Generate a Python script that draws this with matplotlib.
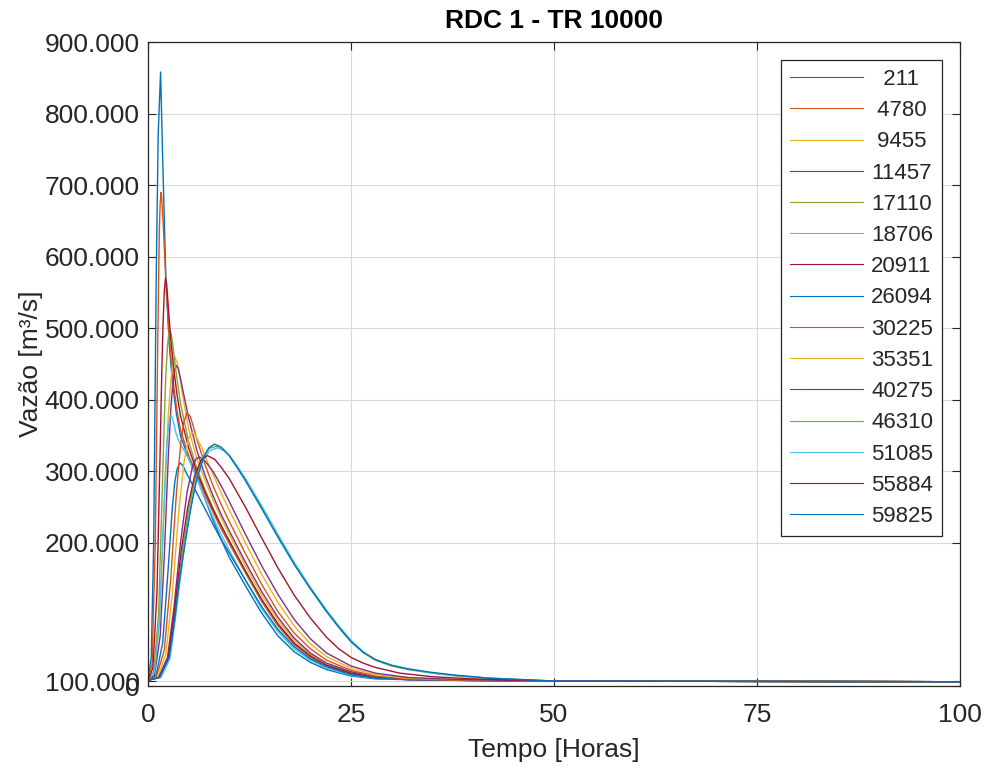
# Hidrogramas de rompimento - RDC 1 - TR 10000
# vazao x tempo em cada secao do rio

import matplotlib
matplotlib.use('Agg')
import matplotlib.pyplot as plt

# secoes (legenda)
secoes = ['211', '4780', '9455', '11457', '17110', '18706', '20911', '26094',
          '30225', '35351', '40275', '46310', '51085', '55884', '59825']

# cores padrao do matlab
cores = ['#0072BD', '#D95319', '#EDB120', '#7E2F8E', '#77AC30', '#4DBEEE', '#A2142F']

# tempo [h] e vazao, uma lista por secao
t01 = [0, 0.4, 0.7, 1.0, 1.25, 1.55, 1.8, 2.2, 2.6, 3.0, 3.5, 4, 5, 6, 7, 8, 9, 10, 12, 14, 16, 18, 20, 22, 25, 28, 32, 38, 50, 100]
q01 = [8, 40, 200, 560, 770, 858, 740, 570, 480, 425, 380, 350, 318, 292, 262, 232, 205, 180, 140, 102, 70, 48, 33, 23, 14, 10, 9, 8, 7, 6]

t02 = [0, 0.5, 0.9, 1.2, 1.4, 1.5, 1.6, 1.7, 1.9, 2.2, 2.6, 3, 3.5, 4, 5, 6, 7, 8, 9, 10, 12, 14, 16, 18, 20, 22, 25, 28, 32, 38, 50, 100]
q02 = [8, 30, 200, 480, 640, 675, 690, 680, 640, 565, 490, 435, 390, 358, 322, 296, 268, 243, 220, 199, 158, 118, 84, 58, 40, 28, 17, 12, 9, 8, 7, 6]

t03 = [0, 0.8, 1.4, 2.0, 2.5, 2.8, 3.0, 3.3, 3.6, 3.9, 4.2, 5, 6, 7, 8, 9, 10, 12, 14, 16, 18, 20, 22, 25, 28, 32, 38, 50, 100]
q03 = [8, 20, 90, 250, 380, 425, 447, 460, 452, 432, 410, 360, 318, 288, 260, 235, 212, 168, 127, 92, 64, 44, 31, 19, 13, 10, 8, 7, 6]

t04 = [0, 0.8, 1.5, 2.0, 2.5, 2.8, 3.0, 3.25, 3.5, 3.75, 4.0, 4.5, 5, 6, 7, 8, 9, 10, 12, 14, 16, 18, 20, 22, 25, 28, 32, 38, 50, 100]
q04 = [8, 15, 70, 180, 320, 385, 415, 440, 448, 443, 430, 402, 375, 330, 295, 266, 240, 217, 173, 132, 96, 67, 46, 32, 20, 13, 10, 8, 7, 6]

t05 = [0, 0.7, 1.3, 1.8, 2.0, 2.2, 2.4, 2.55, 2.7, 2.85, 3.0, 3.25, 3.5, 4, 5, 6, 7, 8, 9, 10, 12, 14, 16, 18, 20, 22, 25, 28, 32, 38, 50, 100]
q05 = [8, 20, 100, 290, 370, 435, 475, 492, 497, 492, 482, 458, 435, 395, 342, 305, 275, 249, 225, 203, 160, 120, 86, 60, 41, 29, 18, 12, 9, 8, 7, 6]

t06 = [0, 0.8, 1.4, 1.9, 2.1, 2.3, 2.5, 2.7, 2.85, 3.0, 3.2, 3.4, 3.7, 4, 5, 5.7, 7, 8, 9, 10, 12, 14, 16, 18, 20, 22, 25, 28, 32, 38, 50, 100]
q06 = [8, 20, 90, 230, 290, 335, 362, 376, 378, 375, 366, 355, 345, 338, 318, 300, 262, 236, 212, 190, 148, 108, 76, 52, 36, 25, 15, 11, 9, 8, 7, 6]

t07 = [0, 0.6, 1.1, 1.5, 1.7, 1.85, 2.0, 2.15, 2.3, 2.5, 2.8, 3.2, 3.6, 4, 5, 6, 7, 8, 9, 10, 12, 14, 16, 18, 20, 22, 25, 28, 32, 38, 50, 100]
q07 = [8, 25, 130, 330, 440, 505, 550, 570, 562, 530, 485, 440, 405, 378, 333, 300, 272, 247, 224, 203, 161, 121, 87, 60, 42, 29, 18, 12, 9, 8, 7, 6]

t08 = [0, 1.0, 1.8, 2.4, 3.0, 3.3, 3.6, 3.95, 4.3, 4.7, 5, 6, 7, 8, 9, 10, 12, 14, 16, 18, 20, 22, 25, 28, 32, 38, 50, 100]
q08 = [8, 15, 60, 150, 250, 285, 304, 312, 308, 298, 292, 270, 248, 226, 205, 186, 148, 111, 79, 55, 38, 27, 16, 11, 9, 8, 7, 6]

t09 = [0, 1.0, 2.0, 2.8, 3.5, 3.8, 4.1, 4.4, 4.8, 5.2, 5.6, 6, 7, 8, 9, 10, 12, 14, 16, 18, 20, 22, 25, 28, 32, 38, 50, 100]
q09 = [8, 12, 50, 150, 270, 310, 345, 368, 382, 377, 362, 345, 310, 280, 254, 230, 185, 142, 104, 74, 52, 36, 22, 14, 10, 8, 7, 6]

t10 = [0, 1.2, 2.2, 3.0, 3.8, 4.4, 4.7, 5.0, 5.4, 5.8, 6.2, 6.5, 7, 8, 9, 10, 12, 14, 16, 18, 20, 22, 25, 28, 32, 38, 50, 100]
q10 = [8, 12, 45, 130, 245, 310, 330, 346, 354, 351, 342, 336, 322, 296, 270, 246, 200, 156, 117, 84, 59, 41, 25, 16, 11, 9, 7, 6]

t11 = [0, 1.3, 2.4, 3.2, 4.0, 4.8, 5.5, 5.9, 6.3, 6.7, 7.2, 8, 9, 10, 12, 14, 16, 18, 20, 22, 25, 28, 32, 38, 50, 100]
q11 = [8, 12, 40, 110, 200, 270, 308, 317, 320, 318, 312, 300, 280, 258, 212, 168, 128, 93, 66, 46, 28, 18, 12, 9, 7, 6]

t12 = [0, 1.5, 2.6, 3.4, 4.2, 5.0, 5.8, 6.6, 7.5, 8.4, 9.3, 10, 11, 12, 14, 16, 18, 20, 22, 23.5, 25, 26.5, 28, 30, 32, 35, 38, 42, 46, 50, 100]
q12 = [8, 12, 40, 110, 185, 245, 290, 318, 332, 335, 330, 322, 306, 289, 250, 210, 171, 136, 104, 82, 62, 47, 36, 28, 23, 18, 14, 11, 9, 7, 6]

t13 = [0, 1.6, 2.7, 3.5, 4.3, 5.1, 5.9, 6.7, 7.6, 8.6, 9.5, 10.2, 11, 12, 14, 16, 18, 20, 22, 23.5, 25, 26.5, 28, 30, 32, 35, 38, 42, 46, 50, 100]
q13 = [8, 12, 38, 105, 180, 240, 285, 314, 329, 333, 328, 320, 307, 290, 252, 212, 173, 138, 106, 84, 64, 48, 37, 29, 24, 18, 15, 11, 9, 7, 6]

t14 = [0, 1.4, 2.5, 3.3, 4.1, 4.9, 5.7, 6.5, 7.3, 8.2, 9, 10, 12, 14, 16, 18, 20, 22, 23.5, 25, 26.5, 28, 31, 35, 40, 50, 100]
q14 = [8, 12, 40, 110, 190, 250, 292, 315, 322, 317, 306, 290, 250, 207, 165, 127, 95, 68, 52, 40, 32, 26, 18, 13, 10, 7, 6]

t15 = [0, 1.4, 2.6, 3.2, 3.8, 4.7, 5.3, 6.0, 6.8, 7.5, 8.2, 9.0, 10, 11, 12, 14, 16, 18, 20, 22, 23.5, 25, 26.5, 28, 30, 32, 35, 38, 42, 46, 50, 100]
q15 = [8, 12, 40, 85, 142, 210, 250, 290, 318, 333, 338, 334, 322, 305, 287, 248, 208, 170, 136, 104, 82, 62, 47, 37, 29, 24, 19, 15, 11, 9, 7, 6]

tempos = [t01, t02, t03, t04, t05, t06, t07, t08, t09, t10, t11, t12, t13, t14, t15]
vazoes = [q01, q02, q03, q04, q05, q06, q07, q08, q09, q10, q11, q12, q13, q14, q15]

# rotulos dos eixos como no original
xticks = [0, 25, 50, 75, 100]
yticks = [0, 7, 200, 300, 400, 500, 600, 700, 800, 900]
ytick_labels = ['0', '100.000', '200.000', '300.000', '400.000', '500.000',
                '600.000', '700.000', '800.000', '900.000']


def centra(s):
    # espaco de pontuacao = meio digito, para centralizar o texto na legenda
    n = 5 - len(s)
    return '\u2008' * n + s + '\u2008' * n


def main():
    plt.rcParams['font.family'] = ['Liberation Sans', 'DejaVu Sans']
    cinza = '#262626'

    fig = plt.figure(figsize=(9.88, 7.71), dpi=100)
    ax = fig.add_axes([0.1498, 0.1102, 0.8219, 0.8353])

    for i in range(len(secoes)):
        ax.plot(tempos[i], vazoes[i], color=cores[i % len(cores)], lw=1.0,
                label=centra(secoes[i]))

    ax.set_xlim(0, 100)
    ax.set_ylim(0, 900)
    ax.set_xticks(xticks)
    ax.set_yticks(yticks)
    ax.set_yticklabels(ytick_labels)
    ax.tick_params(direction='in', length=6, width=0.8, colors=cinza,
                   labelsize=19, top=True, right=True)
    ax.tick_params(axis='x', pad=12)
    ax.tick_params(axis='y', pad=6)
    for s in ax.spines.values():
        s.set_color(cinza)
        s.set_linewidth(0.9)
    ax.grid(True, color='#d9d9d9', lw=0.8)
    ax.set_axisbelow(True)

    ax.set_title('RDC 1 - TR 10000', fontsize=19, fontweight='bold', pad=10)
    ax.set_xlabel('Tempo [Horas]', fontsize=19, color=cinza, labelpad=8)
    ax.set_ylabel('Vaz\u00e3o [m\u00b3/s]', fontsize=19, color=cinza, labelpad=1)

    leg = ax.legend(loc='upper right', bbox_to_anchor=(0.978, 0.972), borderaxespad=0,
                    fontsize=16, handlelength=3.3, handletextpad=0.36,
                    labelspacing=0.46, borderpad=0.4, fancybox=False,
                    framealpha=1, edgecolor=cinza)
    leg.get_frame().set_linewidth(0.9)
    for line in leg.get_lines():
        line.set_linewidth(0.8)
    for txt in leg.get_texts():
        txt.set_color(cinza)

    fig.savefig('out.png', dpi=100)


if __name__ == '__main__':
    main()
